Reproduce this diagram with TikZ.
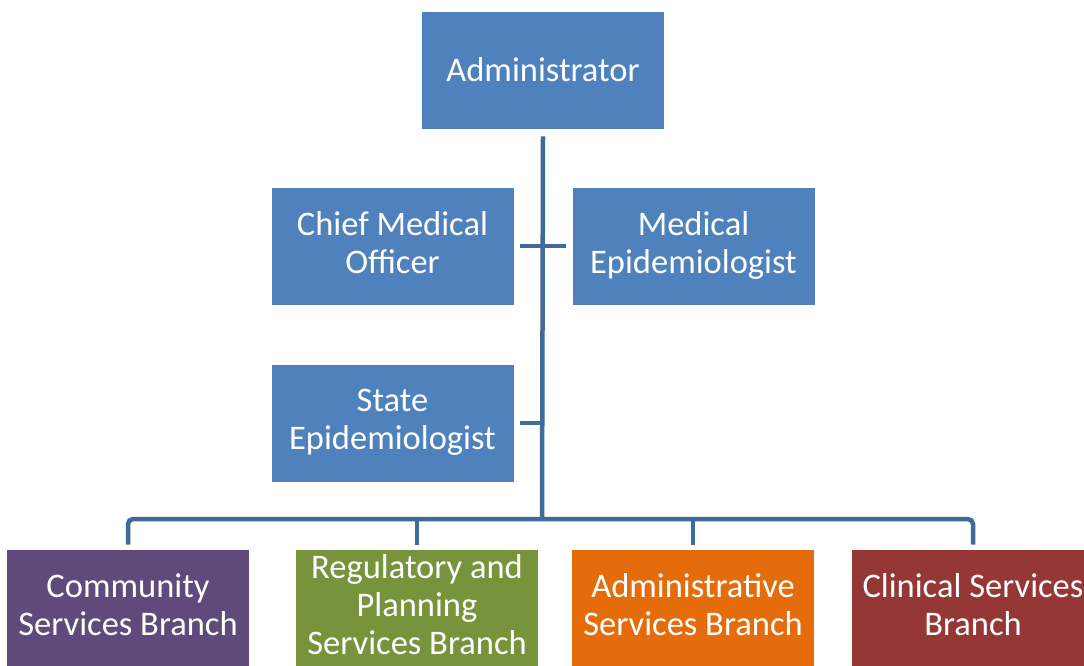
\documentclass[tikz,border=0pt]{standalone}
\usepackage{fontspec}
\setmainfont{Carlito}
\definecolor{boxblue}{HTML}{4F81BD}
\definecolor{lineblue}{HTML}{3F6A9A}
\definecolor{bpurple}{HTML}{604A7B}
\definecolor{bgreen}{HTML}{77933C}
\definecolor{borange}{HTML}{E46C0A}
\definecolor{bred}{HTML}{953735}
\newcommand\boxstrut{\rule[-7.4pt]{0pt}{38pt}}
\begin{document}
\begin{tikzpicture}[x=1pt,y=-1pt,
  unit/.style={rectangle, fill=#1, draw=white, line width=0.6pt, minimum width=243pt, minimum height=118pt,
    text=white, align=center, inner sep=0pt,
    font=\fontsize{34.5}{38}\selectfont,
    execute at begin node=\boxstrut, execute at end node=\boxstrut},
  unit/.default=boxblue,
  conn/.style={draw=lineblue, line width=4.5pt}]
\useasboundingbox (0,0) rectangle (1084,665);
\clip (0,0) rectangle (1084,665);
\node[unit] (admin) at (543,70) {Administrator};
\node[unit] (cmo) at (392.5,246) {Chief Medical\\Officer};
\node[unit] (me) at (693.5,246) {Medical\\Epidemiologist};
\node[unit] (se) at (392.5,423) {State\\Epidemiologist};
\node[unit=bpurple] (comm) at (128,608) {Community\\Services Branch};
\node[unit=bgreen] (reg) at (417,608) {Regulatory and\\Planning\\Services Branch};
\node[unit=borange] (adm) at (693,608) {Administrative\\Services Branch};
\node[unit=bred] (clin) at (973,608) {Clinical Services\\Branch};
\coordinate (bus) at (542,519);
\draw[conn] ([yshift=-7pt]admin.south) -- (bus);
\draw[conn, shorten <=6pt, shorten >=6pt] (cmo.east) -- (me.west);
\draw[conn, shorten <=6pt] (se.east) -- (se.east -| bus);
\draw[conn, rounded corners=5pt] ([yshift=4pt]comm.north) |- (bus) -| ([yshift=4pt]clin.north);
\draw[conn] ([yshift=4pt]reg.north) -- (reg.north |- bus);
\draw[conn] ([yshift=4pt]adm.north) -- (adm.north |- bus);
\end{tikzpicture}
\end{document}
